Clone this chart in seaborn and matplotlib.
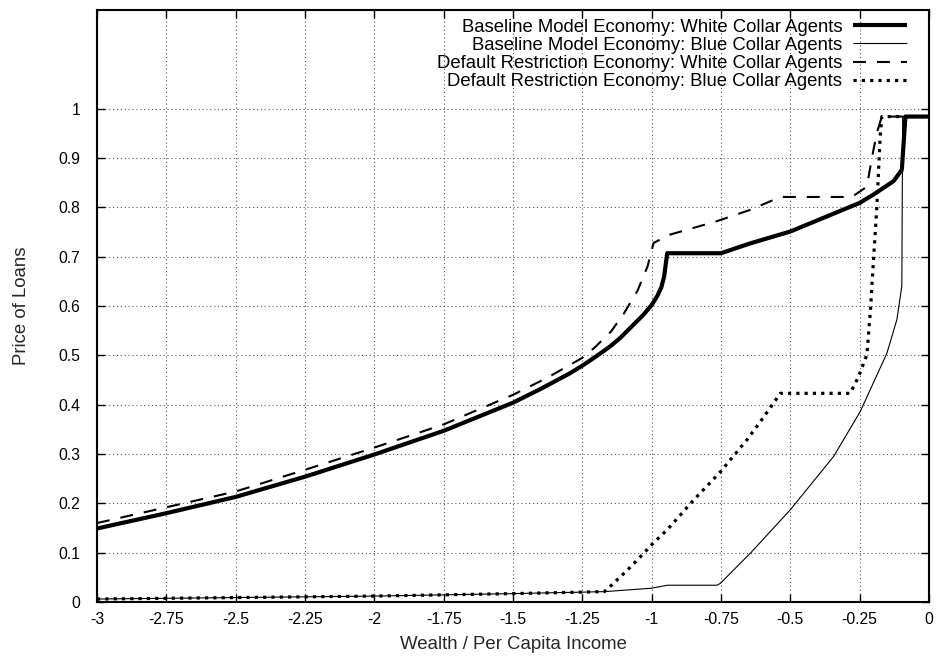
import matplotlib
matplotlib.use("Agg")
import matplotlib.pyplot as plt
import seaborn as sns
import numpy as np
import pandas as pd

# Baseline Model Economy: White Collar Agents
bw_x = [-3.0, -2.75, -2.5, -2.25, -2.0, -1.75, -1.5, -1.4, -1.3, -1.25, -1.2, -1.15, -1.112, -1.064, -1.03, -1.0, -0.98, -0.965, -0.955, -0.944, -0.75, -0.644, -0.5, -0.25, -0.2, -0.128, -0.098, -0.085, 0.0]
bw_y = [0.149, 0.180, 0.213, 0.254, 0.299, 0.347, 0.404, 0.432, 0.462, 0.479, 0.498, 0.518, 0.536, 0.563, 0.582, 0.602, 0.620, 0.638, 0.660, 0.707, 0.707, 0.727, 0.751, 0.809, 0.826, 0.853, 0.876, 0.984, 0.984]

# Baseline Model Economy: Blue Collar Agents
bb_x = [-3.0, -2.5, -2.0, -1.5, -1.17, -1.0, -0.943, -0.764, -0.752, -0.644, -0.5, -0.344, -0.248, -0.152, -0.116, -0.098, -0.095, 0.0]
bb_y = [0.006, 0.009, 0.012, 0.017, 0.021, 0.028, 0.034, 0.034, 0.038, 0.099, 0.187, 0.295, 0.386, 0.504, 0.572, 0.640, 0.984, 0.984]

# Default Restriction Economy: White Collar Agents
dw_x = [-3.0, -2.75, -2.5, -2.25, -2.0, -1.75, -1.5, -1.375, -1.25, -1.207, -1.147, -1.101, -1.051, -1.015, -0.993, -0.932, -0.77, -0.644, -0.536, -0.278, -0.224, -0.206, -0.188, -0.170, 0.0]
dw_y = [0.160, 0.192, 0.224, 0.268, 0.313, 0.360, 0.420, 0.455, 0.495, 0.515, 0.548, 0.584, 0.631, 0.680, 0.728, 0.745, 0.771, 0.795, 0.821, 0.821, 0.842, 0.900, 0.951, 0.984, 0.984]

# Default Restriction Economy: Blue Collar Agents
db_x = [-3.0, -2.5, -2.0, -1.5, -1.171, -1.147, -1.087, -1.028, -0.997, -0.943, -0.848, -0.752, -0.656, -0.6, -0.536, -0.284, -0.254, -0.224, -0.21, -0.206, -0.188, -0.176, -0.170, 0.0]
db_y = [0.006, 0.009, 0.012, 0.017, 0.021, 0.033, 0.065, 0.099, 0.118, 0.147, 0.207, 0.264, 0.329, 0.372, 0.423, 0.423, 0.457, 0.501, 0.600, 0.640, 0.802, 0.944, 0.984, 0.984]

labels = ["Baseline Model Economy: White Collar Agents",
          "Baseline Model Economy: Blue Collar Agents",
          "Default Restriction Economy: White Collar Agents",
          "Default Restriction Economy: Blue Collar Agents"]

x_ticks = [-3, -2.75, -2.5, -2.25, -2, -1.75, -1.5, -1.25, -1, -0.75, -0.5, -0.25, 0]
x_ticklabels = ["-3", "-2.75", "-2.5", "-2.25", "-2", "-1.75", "-1.5", "-1.25", "-1", "-0.75", "-0.5", "-0.25", "0"]
y_ticks = [0, 0.1, 0.2, 0.3, 0.4, 0.5, 0.6, 0.7, 0.8, 0.9, 1]
y_ticklabels = ["0", "0.1", "0.2", "0.3", "0.4", "0.5", "0.6", "0.7", "0.8", "0.9", "1"]

sns.set_theme(style="white")
plt.rcParams['font.family'] = ['Liberation Sans', 'DejaVu Sans']

fig = plt.figure(figsize=(9.4, 6.63), dpi=100)
ax = fig.add_axes([97/940, 1-602/663, (929-97)/940, (602-10)/663])

ax.grid(True, color="#555555", linestyle=(0, (1, 2.5)), linewidth=0.8)
ax.set_axisbelow(True)

styles = [
    dict(color="black", linewidth=3.0, linestyle="-"),
    dict(color="black", linewidth=0.8, linestyle="-"),
    dict(color="black", linewidth=1.5, linestyle=(0, (6.2, 5.3))),
    dict(color="black", linewidth=2.3, linestyle=(0, (1, 1.6))),
]
series = [(bw_x, bw_y), (bb_x, bb_y), (dw_x, dw_y), (db_x, db_y)]
for (xs, ys), lab, st in zip(series, labels, styles):
    sns.lineplot(x=xs, y=ys, ax=ax, label=lab, sort=False, estimator=None, **st)

for ln in ax.get_lines():
    ln.set_dash_capstyle("butt")
    ln.set_solid_capstyle("butt")
    ln.set_solid_joinstyle("round")

ax.set_xlim(-3, 0)
ax.set_ylim(0, 1.2)
ax.set_xticks(x_ticks)
ax.set_xticklabels(x_ticklabels)
ax.set_yticks(y_ticks)
ax.set_yticklabels(y_ticklabels)
ax.tick_params(direction="in", length=6, width=1, top=True, right=True,
               labelsize=11.3, colors="black", pad=7, bottom=True, left=True)
ax.tick_params(axis="y", pad=12)
for sp in ax.spines.values():
    sp.set_color("black")
    sp.set_linewidth(1.5)

ax.set_xlabel("Wealth / Per Capita Income", fontsize=13.4)
ax.set_ylabel("Price of Loans", fontsize=13.4)
ax.xaxis.set_label_coords(0.5, -0.058)
ax.yaxis.set_label_coords(-0.081, 0.5)

leg = ax.legend(loc="upper right", frameon=False, markerfirst=False, fontsize=13.3,
                handlelength=2.9, labelspacing=0.07, borderaxespad=0.0, borderpad=0.4,
                handletextpad=0.6, bbox_to_anchor=(0.9825, 0.998))
for t in leg.get_texts():
    t.set_ha("right")
    t.set_color("black")

fig.savefig("out.png", dpi=100)
